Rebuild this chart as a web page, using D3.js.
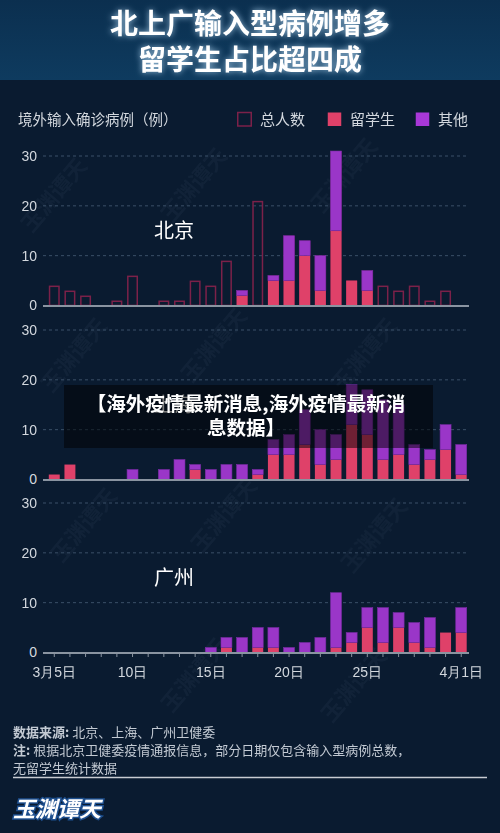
<!DOCTYPE html>
<html><head><meta charset="utf-8">
<script src="https://cdn.jsdelivr.net/npm/d3@7/dist/d3.min.js"></script>
<style>html,body{margin:0;padding:0;background:#0a1b30;}svg{display:block;}</style>
</head><body>
<script>
// ---- data ----
const dates = ["3/5","3/6","3/7","3/8","3/9","3/10","3/11","3/12","3/13","3/14","3/15","3/16","3/17","3/18","3/19","3/20","3/21","3/22","3/23","3/24","3/25","3/26","3/27","3/28","3/29","3/30","3/31"];
const tickLabels = [["3/5","3月5日"],["3/10","10日"],["3/15","15日"],["3/20","20日"],["3/25","25日"],["3/31","4月1日"]];
const yTicks = [0,10,20,30];
const bjTotal   = [4,3,2,0,1,6,0,1,1,5,4,9,3,21,6,14,13,10,31,5,7,4,3,4,1,3,0];
const bjStudent = [null,null,null,null,null,null,null,null,null,null,null,null,2,null,5,5,10,3,15,5,3,null,null,null,null,null,null];
const bjOther   = [null,null,null,null,null,null,null,null,null,null,null,null,1,null,1,9,3,7,16,0,4,null,null,null,null,null,null];
const shStudent = [1,3,0,0,0,0,0,0,0,2,0,0,0,1,5,5,7,3,4,11,9,4,5,3,4,6,1];
const shOther   = [0,0,0,0,0,2,0,2,4,1,2,3,3,1,3,4,7,7,5,8,9,12,10,4,2,5,6];
const gzStudent = [0,0,0,0,0,0,0,0,0,0,0,1,0,1,1,0,0,0,1,2,5,2,5,2,1,4,4];
const gzOther   = [0,0,0,0,0,0,0,0,0,0,1,2,3,4,4,1,2,3,11,2,4,7,3,4,6,0,5];
const cities = [
  {name:"北京", total:bjTotal, student:bjStudent, other:bjOther},
  {name:"上海", total:null, student:shStudent, other:shOther},
  {name:"广州", total:null, student:gzStudent, other:gzOther}
];
const legendItems = ["总人数","留学生","其他"];

// ---- styles ----
const W=500,H=833;
const C = {bg:"#0a1b30", pink:"#df4169", purple:"#9a36c8", outline:"#7c2149", grid:"#3b5068", axis:"#8a94a1", text:"#d3d8de"};
const FONT = "'Noto Sans CJK SC','Noto Sans',sans-serif";

const svg = d3.select("body").append("svg").attr("width",W).attr("height",H).style("font-family",FONT);
const defs = svg.append("defs");
const hg = defs.append("linearGradient").attr("id","hg").attr("x1",0).attr("y1",0).attr("x2",0).attr("y2",1);
hg.append("stop").attr("offset","0%").attr("stop-color","#0b2f4f");
hg.append("stop").attr("offset","100%").attr("stop-color","#0e3b5f");
const glow = defs.append("filter").attr("id","glow").attr("x","-20%").attr("y","-40%").attr("width","140%").attr("height","180%");
glow.append("feGaussianBlur").attr("in","SourceAlpha").attr("stdDeviation",3).attr("result","b");
glow.append("feFlood").attr("flood-color","#bfe4ff").attr("flood-opacity",0.8);
glow.append("feComposite").attr("in2","b").attr("operator","in").attr("result","g");
const fm = glow.append("feMerge"); fm.append("feMergeNode").attr("in","g"); fm.append("feMergeNode").attr("in","SourceGraphic");

svg.append("rect").attr("width",W).attr("height",H).attr("fill",C.bg);
svg.append("rect").attr("width",W).attr("height",80).attr("fill","url(#hg)");

// faint watermarks
const wm = svg.append("g").attr("opacity",0.04);
[[60,200],[200,190],[350,180],[80,360],[220,350],[370,360],[90,530],[230,520],[380,540],[200,680],[360,690]].forEach(p=>{
  wm.append("text").attr("transform",`translate(${p[0]},${p[1]}) rotate(-50)`).attr("text-anchor","middle")
    .attr("font-size",22).attr("font-weight","bold").attr("fill","#c8dcf0").text("玉渊谭天");
});

// title
const tg = svg.append("g").attr("filter","url(#glow)");
tg.append("text").attr("x",250).attr("y",34).attr("text-anchor","middle").attr("font-size",28).attr("font-weight","bold").attr("fill","#fff").text("北上广输入型病例增多");
tg.append("text").attr("x",250).attr("y",70).attr("text-anchor","middle").attr("font-size",28).attr("font-weight","bold").attr("fill","#fff").text("留学生占比超四成");

// legend row
svg.append("text").attr("x",18).attr("y",125).attr("font-size",14.5).attr("fill",C.text).text("境外输入确诊病例（例）");
const legX = [237,327,415];
const legFill = ["none",C.pink,"#a838d8"];
legendItems.forEach((t,i)=>{
  svg.append("rect").attr("x",legX[i]+0.75).attr("y",112.5).attr("width",13.5).attr("height",13.5)
    .attr("fill",legFill[i]).attr("stroke",i===0?C.outline:"none").attr("stroke-width",1.5);
  svg.append("text").attr("x",legX[i]+23).attr("y",125).attr("font-size",15).attr("fill",C.text).text(t);
});

// scales
const x = d3.scaleBand().domain(dates).range([44.1,471.4]).paddingInner(0.3).paddingOuter(0.3);
const baselines = [305.5,479.5,652.5];
const panelH = 149.5;

cities.forEach((c,ci)=>{
  const B = baselines[ci];
  const y = d3.scaleLinear().domain([0,30]).range([B,B-panelH]);
  const g = svg.append("g");
  g.selectAll(".grid").data(yTicks.filter(v=>v>0)).join("line")
    .attr("x1",43).attr("x2",468).attr("y1",d=>y(d)).attr("y2",d=>y(d))
    .attr("stroke",C.grid).attr("stroke-width",1).attr("stroke-dasharray","3,3");
  const ya = g.append("g").attr("transform","translate(37,0)").call(d3.axisLeft(y).tickValues(yTicks).tickSize(0).tickPadding(0));
  ya.select(".domain").remove();
  ya.selectAll("text").attr("font-size",14).attr("fill",C.text).attr("font-family","'Liberation Sans',Arial,sans-serif");
  g.append("text").attr("x",174).attr("y",B-68).attr("text-anchor","middle").attr("font-size",20).attr("fill","#fff").text(c.name);
  if(c.total){
    g.selectAll(".tot").data(dates.map((d,i)=>({d,v:c.total[i]})).filter(o=>o.v>0)).join("rect")
      .attr("x",o=>x(o.d)+0.75).attr("width",x.bandwidth()-1.5)
      .attr("y",o=>y(o.v)+0.75).attr("height",o=>B-y(o.v)-0.75)
      .attr("fill","none").attr("stroke",C.outline).attr("stroke-width",1.5);
  }
  const rows = dates.map((d,i)=>({d,s:c.student[i]||0,o:c.other[i]||0}));
  g.selectAll(".st").data(rows.filter(r=>r.s>0)).join("rect")
    .attr("x",r=>x(r.d)).attr("width",x.bandwidth())
    .attr("y",r=>y(r.s)).attr("height",r=>B-y(r.s)).attr("fill",C.pink);
  g.selectAll(".ot").data(rows.filter(r=>r.o>0)).join("rect")
    .attr("x",r=>x(r.d)).attr("width",x.bandwidth())
    .attr("y",r=>y(r.s+r.o)).attr("height",r=>y(r.s)-y(r.s+r.o)).attr("fill",C.purple)
    .attr("stroke","#7a2ca6").attr("stroke-width",0.6);
  g.append("line").attr("x1",43).attr("x2",469).attr("y1",B+0.5).attr("y2",B+0.5).attr("stroke",C.axis).attr("stroke-width",2);
  if(ci===2){
    const xa = g.append("g").attr("transform",`translate(0,${B+1.5})`)
      .call(d3.axisBottom(x).tickSize(3).tickPadding(10).tickFormat(d=>{const t=tickLabels.find(p=>p[0]===d);return t?t[1]:"";}));
    xa.select(".domain").remove();
    xa.selectAll("line").attr("stroke",C.axis);
    xa.selectAll("text").attr("font-size",14).attr("fill",C.text);
  }
});

// overlay caption box
svg.append("rect").attr("x",64).attr("y",385).attr("width",369).attr("height",63).attr("fill","#000").attr("opacity",0.5);
svg.append("text").attr("x",246).attr("y",411).attr("text-anchor","middle").attr("font-size",19.5).attr("font-weight","bold").attr("fill","#fff").text("【海外疫情最新消息,海外疫情最新消");
svg.append("text").attr("x",246).attr("y",435).attr("text-anchor","middle").attr("font-size",19.5).attr("font-weight","bold").attr("fill","#fff").text("息数据】");

// footer
const ft = svg.append("g").attr("font-size",13).attr("fill","#c3cad3");
const l1 = ft.append("text").attr("x",13).attr("y",737);
l1.append("tspan").attr("font-weight","bold").text("数据来源: ");
l1.append("tspan").text("北京、上海、广州卫健委");
const l2 = ft.append("text").attr("x",13).attr("y",755);
l2.append("tspan").attr("font-weight","bold").text("注: ");
l2.append("tspan").text("根据北京卫健委疫情通报信息，部分日期仅包含输入型病例总数，");
ft.append("text").attr("x",13).attr("y",773).text("无留学生统计数据");
svg.append("line").attr("x1",13).attr("x2",487).attr("y1",777.5).attr("y2",777.5).attr("stroke","#c8ccd2").attr("stroke-width",1.5);

// logo
svg.append("text").attr("x",13).attr("y",817).attr("font-size",22).attr("font-weight","bold").attr("font-style","italic")
  .attr("fill","#fff").attr("stroke","#1d4f8f").attr("stroke-width",3).attr("paint-order","stroke").text("玉渊谭天");
</script>
</body></html>
